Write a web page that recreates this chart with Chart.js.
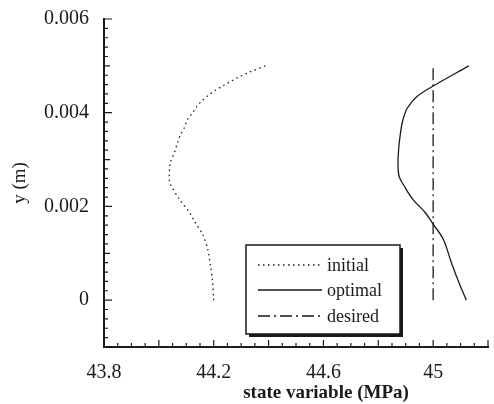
<!DOCTYPE html>
<html>
<head>
<meta charset="utf-8">
<script src="https://cdn.jsdelivr.net/npm/chart.js@4.4.1/dist/chart.umd.min.js"></script>
<style>
  html, body { margin: 0; padding: 0; background: #fff; }
  #wrap { width: 494px; height: 404px; }
</style>
</head>
<body>
<div id="wrap"><canvas id="stateChart"></canvas></div>
<script>
var initialX = [44.2, 44.195, 44.189, 44.178, 44.16, 44.13, 44.112, 44.075, 44.042, 44.038, 44.042, 44.057, 44.068, 44.079, 44.093, 44.104, 44.123, 44.138, 44.158, 44.178, 44.204, 44.233, 44.259, 44.288, 44.332, 44.388];
var initialY = [0, 0.00045, 0.0007, 0.00109, 0.0014, 0.00168, 0.00187, 0.00215, 0.00247, 0.00257, 0.00294, 0.00315, 0.00336, 0.00353, 0.00368, 0.00385, 0.004, 0.00413, 0.00426, 0.00436, 0.00447, 0.00457, 0.00466, 0.00475, 0.00487, 0.005];
var optimalX = [45.13, 45.0, 44.94, 44.906, 44.89, 44.881, 44.874, 44.872, 44.876, 44.895, 44.926, 44.971, 45.0, 45.037, 45.066, 45.099, 45.121];
var optimalY = [0.005, 0.00457, 0.00434, 0.0041, 0.00385, 0.00357, 0.00321, 0.00285, 0.00264, 0.00243, 0.00215, 0.00187, 0.00162, 0.0013, 0.00081, 0.0003, 0];
var desiredX = [45, 45];
var desiredY = [0, 0.005];
var xTickLabels = [43.8, 44.2, 44.6, 45];
var yTickLabels = [0, 0.002, 0.004, 0.006];
var seriesNames = ["initial", "optimal", "desired"];

var ink = "#1a1a1a";

function pts(xs, ys) {
  var out = [];
  for (var i = 0; i < xs.length; i++) out.push({x: xs[i], y: ys[i]});
  return out;
}

// inward ticks, legend box and axis titles
var decor = {
  id: "decor",
  afterDraw: function(chart) {
    var ctx = chart.ctx;
    var xs = chart.scales.x, ys = chart.scales.y;
    var a = chart.chartArea;
    ctx.save();
    ctx.strokeStyle = ink;
    ctx.lineWidth = 1.2;
    ctx.beginPath();
    for (var i = 0; i <= 28; i++) {
      var v = 43.8 + i * 0.05;
      var px = xs.getPixelForValue(v);
      var len = (i % 4 == 0) ? 7 : 4;
      ctx.moveTo(px, a.bottom);
      ctx.lineTo(px, a.bottom - len);
    }
    for (var j = 0; j <= 35; j++) {
      var w = -0.001 + j * 0.0002;
      var py = ys.getPixelForValue(w);
      var l = (j % 10 == 5) ? 8 : ((j % 5 == 0) ? 6 : 4);
      ctx.moveTo(a.left, py);
      ctx.lineTo(a.left + l, py);
    }
    ctx.stroke();

    // legend
    var bx = 246, by = 245, bw = 154, bh = 89;
    ctx.fillStyle = ink;
    ctx.fillRect(bx + 3, by + 3, bw, bh);
    ctx.fillStyle = "#fff";
    ctx.fillRect(bx, by, bw, bh);
    ctx.lineWidth = 1.5;
    ctx.strokeRect(bx, by, bw, bh);
    var rows = [265, 290, 316];
    ctx.font = "18px 'Liberation Serif'";
    ctx.textBaseline = "middle";
    ctx.textAlign = "left";
    for (var k = 0; k < 3; k++) {
      var ds = chart.data.datasets[k];
      ctx.save();
      ctx.lineWidth = ds.borderWidth;
      ctx.setLineDash(ds.borderDash || []);
      ctx.beginPath();
      ctx.moveTo(258, rows[k]);
      ctx.lineTo(322, rows[k]);
      ctx.stroke();
      ctx.restore();
      ctx.fillStyle = ink;
      ctx.fillText(seriesNames[k], 327, rows[k] + 1);
    }

    // axis titles
    ctx.font = "bold 19px 'Liberation Serif'";
    ctx.textAlign = "center";
    ctx.fillText("state variable (MPa)", 326, 393);
    ctx.save();
    ctx.translate(20, (a.top + a.bottom) / 2);
    ctx.rotate(-Math.PI / 2);
    ctx.font = "19px 'Liberation Serif'";
    ctx.fillText("y (m)", 0, 0);
    ctx.restore();
    ctx.restore();
  }
};

new Chart("stateChart", {
  type: "scatter",
  data: {
    datasets: [{
      label: seriesNames[0],
      data: pts(initialX, initialY),
      showLine: true,
      borderColor: ink,
      borderWidth: 1.3,
      borderDash: [1.5, 3.5],
      pointRadius: 0,
      tension: 0.3
    }, {
      label: seriesNames[1],
      data: pts(optimalX, optimalY),
      showLine: true,
      borderColor: ink,
      borderWidth: 1.3,
      pointRadius: 0,
      tension: 0.35
    }, {
      label: seriesNames[2],
      data: pts(desiredX, desiredY),
      showLine: true,
      borderColor: ink,
      borderWidth: 1.3,
      borderDash: [12, 4, 2, 4],
      pointRadius: 0
    }]
  },
  options: {
    responsive: true,
    maintainAspectRatio: false,
    animation: false,
    layout: { padding: { top: 19, right: 6, left: 0, bottom: 0 } },
    plugins: {
      legend: { display: false },
      tooltip: { enabled: false }
    },
    scales: {
      x: {
        type: "linear",
        min: 43.8,
        max: 45.2,
        grid: { display: false },
        border: { display: true, color: ink, width: 2 },
        afterBuildTicks: function(s) { s.ticks = xTickLabels.map(function(v) { return {value: v}; }); },
        afterFit: function(s) { s.height = 57; },
        ticks: {
          color: ink,
          padding: 6,
          font: { family: "'Liberation Serif'", size: 20 },
          callback: function(v) { return String(v); }
        }
      },
      y: {
        type: "linear",
        min: -0.001,
        max: 0.006,
        grid: { display: false },
        border: { display: true, color: ink, width: 2 },
        afterBuildTicks: function(s) { s.ticks = yTickLabels.map(function(v) { return {value: v}; }); },
        afterFit: function(s) { s.width = 104; },
        ticks: {
          color: ink,
          padding: 7,
          font: { family: "'Liberation Serif'", size: 20 },
          callback: function(v) { return String(v); }
        }
      }
    }
  },
  plugins: [decor]
});
</script>
</body>
</html>
